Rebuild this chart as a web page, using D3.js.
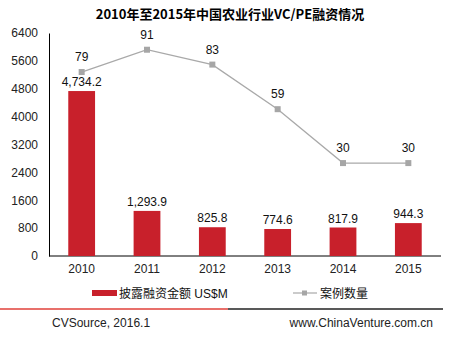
<!DOCTYPE html>
<html><head><meta charset="utf-8">
<script src="https://cdn.jsdelivr.net/npm/d3@7"></script>
<style>body{margin:0;background:#fff}svg{display:block}text{font-family:"Liberation Sans",Arial,sans-serif}</style>
</head><body><div id="c"></div>
<script>
const years = ["2010","2011","2012","2013","2014","2015"];
const amounts = [4734.2, 1293.9, 825.8, 774.6, 817.9, 944.3];
const amountLabels = ["4,734.2","1,293.9","825.8","774.6","817.9","944.3"];
const counts = [79, 91, 83, 59, 30, 30];
const yTicks = [0, 800, 1600, 2400, 3200, 4000, 4800, 5600, 6400];
const title = "2010年至2015年中国农业行业VC/PE融资情况";
const legendNames = ["披露融资金额", " US$M", "案例数量"];

const W = 453, H = 340;
const FS = 12;
const svg = d3.select("#c").append("svg").attr("width", W).attr("height", H);
const m = {l: 49, r: 441, t: 33, b: 256};
const x = d3.scaleBand().domain(years).range([m.l, m.r]).paddingInner(0.59).paddingOuter(0.295);
const y = d3.scaleLinear().domain([0, 6400]).range([m.b, m.t]);
const y2 = d3.scaleLinear().domain([-20, 100]).range([m.b, m.t]);

svg.append("text").attr("x", 230).attr("y", 19).attr("text-anchor", "middle")
  .attr("font-size", 13).attr("font-weight", "bold").attr("fill", "#000")
  .style("font-family", "'Noto Sans CJK SC',sans-serif").text(title);

// y axis
const ya = svg.append("g").attr("transform", `translate(${m.l},0)`)
  .call(d3.axisLeft(y).tickValues(yTicks).tickSize(0).tickPadding(11).tickFormat(d3.format("d")));
ya.select(".domain").attr("stroke", "#000");
ya.selectAll("text").attr("font-size", FS).attr("fill", "#222").style("font-family","'Liberation Sans',Arial");

// x axis
const xa = svg.append("g").attr("transform", `translate(0,${m.b})`)
  .call(d3.axisBottom(x).tickSize(0).tickPadding(8));
xa.select(".domain").attr("stroke", "#000").attr("d", `M${m.l},0H${m.r}`);
xa.selectAll("text").attr("font-size", FS).attr("fill", "#222").style("font-family","'Liberation Sans',Arial");

// bars
svg.selectAll("rect.bar").data(amounts).join("rect").attr("class","bar")
  .attr("x", (d,i) => x(years[i])).attr("width", x.bandwidth())
  .attr("y", d => y(d)).attr("height", d => m.b - y(d)).attr("fill", "#c8202b");
svg.selectAll("text.bl").data(amounts).join("text").attr("class","bl")
  .attr("x", (d,i) => x(years[i]) + x.bandwidth()/2).attr("y", d => y(d) - 5)
  .attr("text-anchor","middle").attr("font-size", FS).attr("fill","#111")
  .text((d,i) => amountLabels[i]);

// line
const cx = (i) => x(years[i]) + x.bandwidth()/2;
svg.append("path").datum(counts)
  .attr("d", d3.line().x((d,i) => cx(i)).y(d => y2(d)))
  .attr("fill","none").attr("stroke","#a9a9a9").attr("stroke-width",1.3);
svg.selectAll("rect.mk").data(counts).join("rect").attr("class","mk")
  .attr("x",(d,i)=>cx(i)-3).attr("y",d=>y2(d)-3).attr("width",6).attr("height",6).attr("fill","#a6a6a6");
svg.selectAll("text.cl").data(counts).join("text").attr("class","cl")
  .attr("x",(d,i)=>cx(i)).attr("y",d=>y2(d)-11).attr("text-anchor","middle")
  .attr("font-size",FS).attr("fill","#111").text(d=>d);

// legend
const lg = svg.append("g");
lg.append("rect").attr("x",92).attr("y",290).attr("width",25).attr("height",6).attr("fill","#c8202b");
const t1 = lg.append("text").attr("x",119).attr("y",298).attr("font-size",FS).attr("fill","#111");
t1.append("tspan").style("font-family","'Noto Sans CJK SC',sans-serif").text(legendNames[0]);
t1.append("tspan").style("font-family","'Liberation Sans',Arial").text(legendNames[1]);
lg.append("line").attr("x1",293).attr("x2",317).attr("y1",293).attr("y2",293).attr("stroke","#a9a9a9").attr("stroke-width",1.2);
lg.append("rect").attr("x",302).attr("y",290.5).attr("width",5).attr("height",5).attr("fill","#a6a6a6");
lg.append("text").attr("x",320).attr("y",298).attr("font-size",FS).attr("fill","#111")
  .style("font-family","'Noto Sans CJK SC',sans-serif").text(legendNames[2]);

// footer
svg.append("line").attr("x1",0).attr("x2",228).attr("y1",309).attr("y2",309).attr("stroke","#e0403a").attr("stroke-width",1.5);
svg.append("line").attr("x1",228).attr("x2",443).attr("y1",309).attr("y2",309).attr("stroke","#222").attr("stroke-width",1.5);
svg.append("text").attr("x",52).attr("y",327).attr("font-size",FS).attr("fill","#222").text("CVSource, 2016.1");
svg.append("text").attr("x",433).attr("y",327).attr("text-anchor","end").attr("font-size",FS).attr("fill","#222").text("www.ChinaVenture.com.cn");
</script></body></html>
